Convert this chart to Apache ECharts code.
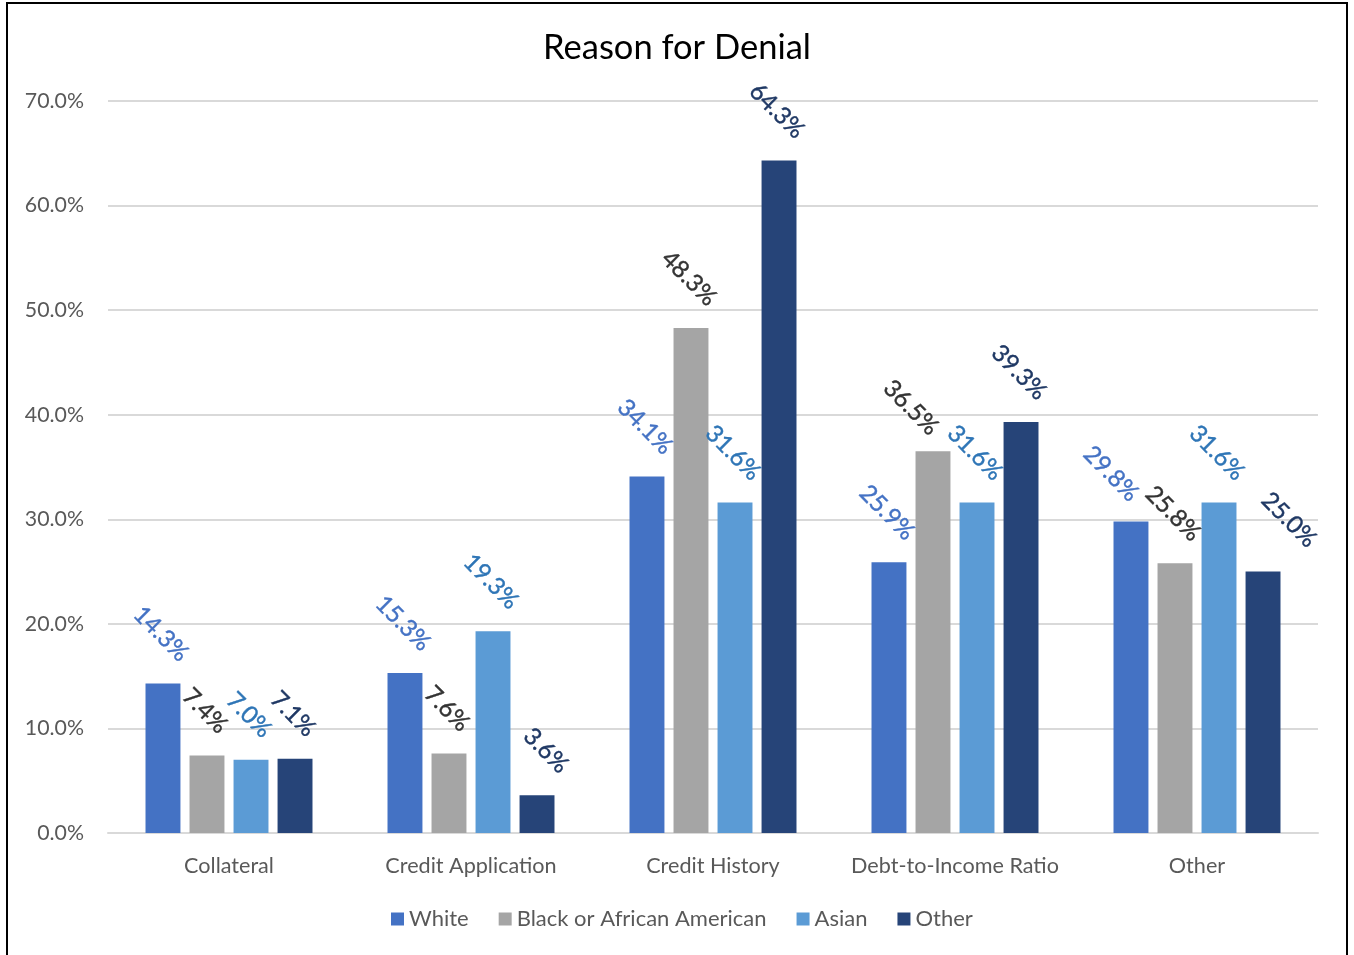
<!DOCTYPE html>
<html>
<head>
<meta charset="utf-8">
<script src="https://cdn.jsdelivr.net/npm/echarts@6/dist/echarts.min.js"></script>
<style>
  html, body { margin: 0; padding: 0; background: #fff; }
  #chart { width: 1354px; height: 955px; }
</style>
</head>
<body>
<div id="chart"></div>
<script>
// Denial reasons by applicant race (share of denials, %)
const categories = ['Collateral', 'Credit Application', 'Credit History', 'Debt-to-Income Ratio', 'Other'];
const seriesNames = ['White', 'Black or African American', 'Asian', 'Other'];
const whiteValues = [14.3, 15.3, 34.1, 25.9, 29.8];
const blackValues = [7.4, 7.6, 48.3, 36.5, 25.8];
const asianValues = [7.0, 19.3, 31.6, 31.6, 31.6];
const otherValues = [7.1, 3.6, 64.3, 39.3, 25.0];
const yTicks = [0, 10, 20, 30, 40, 50, 60, 70];

// hand-placed labels, moved off their default spot (screen px: dx, dy)
const labelNudge = {
  'Black or African American|Debt-to-Income Ratio': [-20, 6],
  'White|Other': [-18, 2],
  'Other|Other': [28, -2],
  'Other|Credit Application': [11, 0]
};

const FONT = 'Lato, "Open Sans", sans-serif';
const LABEL_SIZE = 24;

const barColors = ['#4472C4', '#A5A5A5', '#5B9BD5', '#264478'];
const labelColors = ['#4472C4', '#333333', '#2E75B6', '#1F3864'];

// measure label text so each rotated label sits a fixed gap above its bar
const measureCtx = document.createElement('canvas').getContext('2d');
measureCtx.font = LABEL_SIZE + 'px ' + FONT;
function labelLift(text) {
  const w = measureCtx.measureText(text).width;
  const h = LABEL_SIZE * 0.72;
  return 20 + (w + h) / (2 * Math.SQRT2);
}
const fmt = v => v.toFixed(1) + '%';

function makeSeries(name, values, idx) {
  return {
    name: name,
    type: 'bar',
    barGap: '26%',
    barCategoryGap: '31%',
    itemStyle: { color: barColors[idx] },
    emphasis: { disabled: true },
    label: {
      show: true,
      position: 'top',
      align: 'center',
      verticalAlign: 'middle',
      rotate: -45,
      formatter: p => fmt(p.value),
      color: labelColors[idx],
      fontFamily: FONT,
      fontSize: LABEL_SIZE,
      textBorderColor: labelColors[idx],
      textBorderWidth: 0.4
    },
    labelLayout: function (params) {
      const r = params.rect;
      const nudge = labelNudge[name + '|' + categories[params.dataIndex]] || [0, 0];
      const top = Math.min(r.y, r.y + r.height);
      return {
        x: r.x + r.width / 2 - 2 + nudge[0],
        y: top - labelLift(fmt(values[params.dataIndex])) + nudge[1],
        align: 'center',
        verticalAlign: 'middle',
        rotate: -45
      };
    },
    data: values
  };
}

const chart = echarts.init(document.getElementById('chart'), null, { renderer: 'canvas' });
chart.setOption({
  animation: false,
  backgroundColor: '#fff',
  textStyle: { fontFamily: FONT },
  title: {
    text: 'Reason for Denial',
    left: 'center',
    top: 25,
    textStyle: { fontFamily: FONT, fontSize: 34.5, fontWeight: 'normal', color: '#000' }
  },
  legend: {
    data: seriesNames,
    bottom: 20,
    left: 386,
    icon: 'rect',
    itemWidth: 13,
    itemHeight: 13,
    itemGap: 30,
    textStyle: { fontFamily: FONT, fontSize: 22, color: '#595959' }
  },
  grid: { left: 108, right: 36, top: 101, bottom: 122, containLabel: false },
  xAxis: {
    type: 'category',
    data: categories,
    axisLine: { lineStyle: { color: '#D9D9D9', width: 2 } },
    axisTick: { show: false },
    axisLabel: { interval: 0, color: '#595959', fontFamily: FONT, fontSize: 21.6, margin: 22 }
  },
  yAxis: {
    type: 'value',
    min: yTicks[0],
    max: yTicks[yTicks.length - 1],
    interval: yTicks[1] - yTicks[0],
    axisLine: { show: false },
    axisTick: { show: false },
    splitLine: { lineStyle: { color: '#D9D9D9', width: 2 } },
    axisLabel: { color: '#595959', fontFamily: FONT, fontSize: 21.3, margin: 24, formatter: v => v.toFixed(1) + '%' }
  },
  graphic: [{
    type: 'rect',
    silent: true,
    z: 100,
    shape: { x: 7, y: 3, width: 1340, height: 1000 },
    style: { fill: 'none', stroke: '#000', lineWidth: 2 }
  }],
  series: [
    makeSeries(seriesNames[0], whiteValues, 0),
    makeSeries(seriesNames[1], blackValues, 1),
    makeSeries(seriesNames[2], asianValues, 2),
    makeSeries(seriesNames[3], otherValues, 3)
  ]
});
</script>
</body>
</html>
